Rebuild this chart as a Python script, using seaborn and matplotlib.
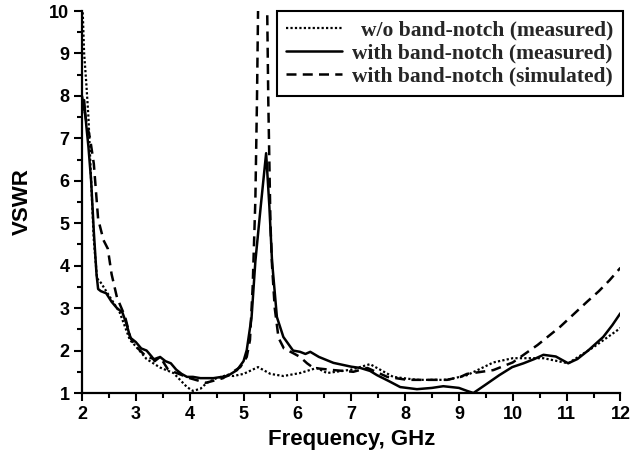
import matplotlib
matplotlib.use("Agg")
import matplotlib.pyplot as plt
from matplotlib.ticker import MultipleLocator
import seaborn as sns

# w/o band-notch (measured)
freq_wo = [2.0, 2.04, 2.08, 2.12, 2.17, 2.22, 2.28, 2.35, 2.5, 2.7, 2.89, 3.0, 3.2, 3.45,
           3.7, 3.95, 4.06, 4.2, 4.32, 4.5, 4.69, 4.81, 5.0, 5.27, 5.5, 5.74, 6.05, 6.36,
           6.55, 7.0, 7.35, 7.78, 8.22, 8.78, 9.15, 9.64, 10.0, 10.57, 11.03, 11.5, 12.0]
vswr_wo = [10.5, 9.0, 8.3, 7.5, 6.0, 4.6, 3.7, 3.6, 3.3, 2.9, 2.25, 2.1, 1.8, 1.6,
           1.47, 1.14, 1.05, 1.1, 1.24, 1.35, 1.42, 1.4, 1.45, 1.61, 1.45, 1.4, 1.47, 1.59,
           1.47, 1.55, 1.68, 1.38, 1.31, 1.31, 1.42, 1.72, 1.82, 1.82, 1.7, 2.08, 2.53]

# with band-notch (measured)
freq_meas = [2.0, 2.04, 2.08, 2.12, 2.17, 2.22, 2.27, 2.3, 2.35, 2.45, 2.55, 2.65, 2.75, 2.82,
             2.9, 3.0, 3.1, 3.2, 3.3, 3.35, 3.45, 3.55, 3.65, 3.75, 3.85, 3.95, 4.06, 4.2,
             4.44, 4.6, 4.7, 4.88, 5.0, 5.06, 5.15, 5.22, 5.32, 5.42, 5.48, 5.53, 5.62, 5.74,
             5.92, 6.05, 6.15, 6.24, 6.4, 6.67, 7.0, 7.17, 7.35, 7.48, 7.7, 7.91, 8.22, 8.5,
             8.71, 9.0, 9.15, 9.27, 9.5, 9.75, 9.99, 10.2, 10.4, 10.57, 10.8, 11.03, 11.2,
             11.4, 11.68, 11.85, 12.0]
vswr_meas = [7.6, 7.9, 7.3, 6.8, 6.0, 4.8, 3.8, 3.45, 3.4, 3.35, 3.15, 3.0, 2.9, 2.65,
             2.3, 2.2, 2.05, 2.0, 1.85, 1.75, 1.85, 1.75, 1.7, 1.55, 1.45, 1.38, 1.38, 1.35,
             1.35, 1.38, 1.4, 1.54, 1.75, 2.01, 2.79, 4.1, 5.4, 6.65, 5.4, 4.1, 2.79, 2.32,
             2.0, 1.97, 1.92, 1.97, 1.85, 1.71, 1.62, 1.59, 1.52, 1.42, 1.28, 1.14, 1.09, 1.12,
             1.16, 1.12, 1.05, 1.0, 1.2, 1.42, 1.61, 1.7, 1.8, 1.9, 1.86, 1.7, 1.8,
             2.0, 2.32, 2.6, 2.88]

# with band-notch (simulated)
freq_sim = [2.0, 2.08, 2.15, 2.22, 2.3, 2.4, 2.48, 2.55, 2.65, 2.8, 2.9, 3.0, 3.2, 3.35,
            3.45, 3.6, 3.8, 4.0, 4.3, 4.62, 4.94, 5.06, 5.12, 5.17, 5.22, 5.25, 5.27, 5.3,
            5.35, 5.4, 5.44, 5.46, 5.5, 5.53, 5.58, 5.65, 5.75, 5.92, 6.05, 6.18, 6.3, 6.67,
            7.04, 7.3, 7.67, 8.04, 8.5, 8.78, 9.03, 9.15, 9.64, 10.0, 10.46, 10.88, 11.38,
            11.6, 11.8, 12.0]
vswr_sim = [8.0, 7.4, 7.0, 6.4, 5.1, 4.6, 4.4, 3.8, 3.25, 2.8, 2.3, 2.1, 1.85, 1.8,
            1.85, 1.55, 1.45, 1.35, 1.24, 1.35, 1.61, 1.85, 2.25, 3.5, 5.55, 7.9, 10.0, 12.5,
            14.0, 12.5, 10.0, 7.9, 5.0, 4.0, 3.0, 2.3, 2.05, 1.94, 1.85, 1.7, 1.59, 1.54,
            1.5, 1.59, 1.38, 1.31, 1.31, 1.31, 1.38, 1.45, 1.54, 1.72, 2.13, 2.56, 3.15,
            3.4, 3.66, 3.95]

labels = ["w/o band-notch (measured)", "with band-notch (measured)",
          "with band-notch (simulated)"]

sns.set_theme(style="ticks")
plt.rcParams["font.family"] = ["Liberation Sans", "DejaVu Sans"]

fig = plt.figure(figsize=(6.34, 4.61), dpi=100)
ax = fig.add_axes([0.1293, 0.1475, 0.8493, 0.8286])

sns.lineplot(x=freq_wo, y=vswr_wo, ax=ax, color="black", lw=1.6,
             linestyle=(0, (1, 1)), label=labels[0])
sns.lineplot(x=freq_meas, y=vswr_meas, ax=ax, color="black", lw=1.8,
             linestyle="-", label=labels[1])
sns.lineplot(x=freq_sim, y=vswr_sim, ax=ax, color="black", lw=1.8,
             linestyle=(0, (4, 2.5)), label=labels[2])

ax.set_xlim(2, 12)
ax.set_ylim(1, 10)
ax.xaxis.set_major_locator(MultipleLocator(1))
ax.xaxis.set_minor_locator(MultipleLocator(0.5))
ax.yaxis.set_major_locator(MultipleLocator(1))
ax.yaxis.set_minor_locator(MultipleLocator(0.5))
ax.tick_params(which="major", direction="out", length=6, width=1.5, color="black",
               labelsize=13, labelcolor="black", pad=3)
ax.tick_params(which="minor", direction="out", length=3.5, width=1.5, color="black")
for lab in ax.get_xticklabels() + ax.get_yticklabels():
    lab.set_fontweight("bold")
sns.despine(ax=ax)
for side in ["left", "bottom"]:
    ax.spines[side].set_linewidth(1.6)
    ax.spines[side].set_color("black")

ax.set_xlabel("Frequency, GHz", fontsize=16, fontweight="bold", color="black", labelpad=5)
ax.set_ylabel("VSWR", fontsize=16, fontweight="bold", color="black", labelpad=12)

leg = ax.legend(loc="upper right", bbox_to_anchor=(1.004, 1.0), borderaxespad=0,
                fancybox=False, framealpha=1, handlelength=2.6, handletextpad=0.45,
                labelspacing=0.12, borderpad=0.45,
                prop={"family": "Liberation Serif", "weight": "bold", "size": 15.5})
leg.get_frame().set_edgecolor("black")
leg.get_frame().set_linewidth(1.5)

# right-align legend entries (handles stay on the left)
renderer = fig.canvas.get_renderer()
widths = [t.get_window_extent(renderer).width for t in leg.get_texts()]
for t, w in zip(leg.get_texts(), widths):
    t.set_position((max(widths) - w, 0))

fig.savefig("out.png", dpi=100)
